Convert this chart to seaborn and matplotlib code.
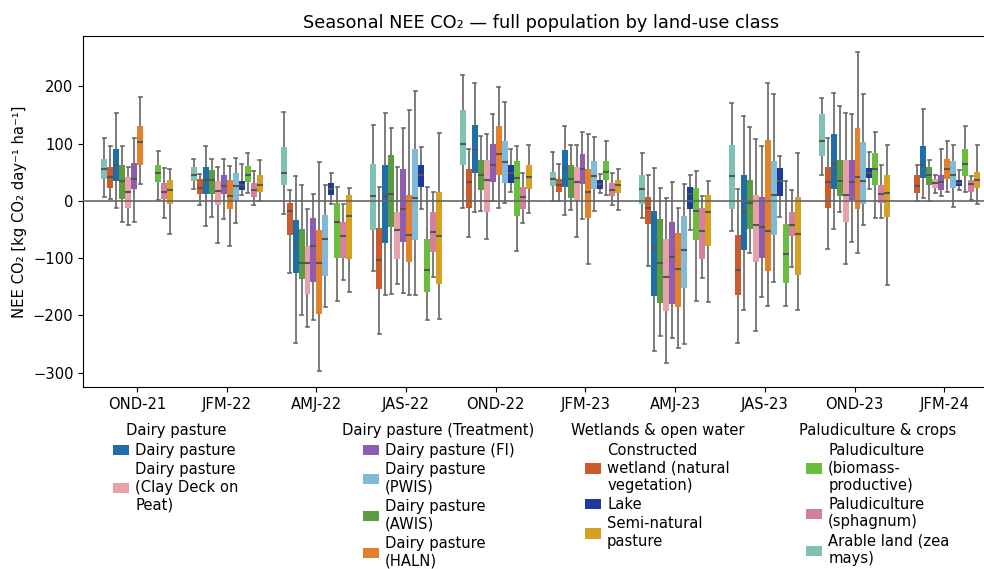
import textwrap

import matplotlib
matplotlib.use("Agg")
import matplotlib.pyplot as plt
from matplotlib.patches import Patch
import pandas as pd
import seaborn as sns

seasons = ["OND-21", "JFM-22", "AMJ-22", "JAS-22", "OND-22",
           "JFM-23", "AMJ-23", "JAS-23", "OND-23", "JFM-24"]

# Per-season five-number summaries: (low whisker, Q1, median, Q3, high whisker)
arable_land = [(6, 38, 55, 73, 110), (20, 35, 45, 59, 73), (-22, 27, 49, 94, 155),
               (-123, -50, 9, 65, 133), (-12, 62, 100, 159, 220), (0, 26, 38, 51, 86),
               (-30, -5, 20, 46, 83), (-52, -14, 44, 98, 171), (45, 79, 105, 151, 180),
               None]
constructed_wetland = [(3, 23, 42, 60, 95), (-7, 12, 23, 38, 47), (-126, -59, -17, -4, 19),
                       (-233, -154, -104, -48, 24), (-63, -12, 33, 56, 90), (-1, 16, 28, 39, 65),
                       (-113, -40, -12, 6, 45), (-248, -164, -121, -59, 21), (-84, -12, 33, 59, 109),
                       (-1, 14, 26, 45, 62)]
dairy = [(-12, 35, 62, 90, 153), (-44, 12, 36, 60, 96), (-248, -126, -77, -33, 44),
         (-165, -73, 9, 62, 154), (-20, 48, 88, 133, 206), (-24, 24, 58, 88, 131),
         (-262, -166, -82, -17, 58), (-191, -86, -20, 46, 149), (-49, 21, 65, 116, 189),
         (5, 40, 62, 95, 160)]
dairy_awis = [(-36, 3, 34, 62, 96), (-28, 12, 36, 54, 73), (-199, -136, -108, -49, 28),
              (-163, -45, 12, 80, 127), (-17, 19, 45, 72, 113), (-16, 5, 38, 63, 98),
              (-236, -178, -109, -31, 23), (-91, -49, -3, 37, 129), (-20, 9, 34, 72, 166),
              (-1, 28, 45, 60, 72)]
dairy_clay = [(-42, -12, 16, 41, 60), (-74, -7, 17, 34, 60), (-220, -162, -109, -78, -15),
              (-145, -102, -51, -19, 60), (-66, -19, 37, 72, 117), (-63, 2, 33, 60, 98),
              (-283, -193, -132, -67, 5), (-227, -106, -42, 11, 108), (-111, -36, 10, 72, 153),
              (14, 23, 31, 38, 46)]
dairy_fi = [(-37, 21, 38, 67, 109), (-31, 12, 26, 45, 73), (-208, -141, -78, -29, 12),
            (-161, -72, -15, 55, 127), (-1, 33, 62, 100, 152), (-31, 30, 56, 81, 121),
            (-239, -180, -98, -36, 33), (-168, -99, -45, 6, 95), (-72, 1, 33, 72, 152),
            (8, 19, 33, 46, 90)]
dairy_haln = [(30, 63, 103, 130, 182), (-79, -14, 8, 36, 61), (-297, -197, -108, -51, 68),
              (-165, -106, -59, 10, 158), (-12, 46, 82, 131, 199), (-111, -30, 15, 55, 116),
              (-257, -185, -118, -56, -12), (-183, -123, -53, 107, 206), (-91, -15, 41, 128, 260),
              (16, 39, 55, 74, 104)]
dairy_pwis = [None, (-39, 1, 26, 48, 75), (-186, -131, -67, -24, 27),
              (-165, -69, 5, 90, 192), (-4, 32, 68, 105, 173), (-17, 21, 44, 69, 111),
              (-249, -152, -86, -27, 30), (-142, -59, 11, 70, 186), (-42, -5, 34, 102, 186),
              (-10, 23, 46, 70, 97)]
lake = [None, (11, 19, 27, 34, 65), (-6, 11, 21, 32, 48),
        (-15, 24, 46, 63, 94), (15, 31, 48, 62, 91), (14, 21, 29, 36, 47),
        (-50, -14, 12, 25, 45), (-28, 9, 35, 58, 79), (20, 40, 49, 58, 86),
        (19, 26, 32, 36, 54)]
palud_biomass = [(2, 33, 48, 63, 87), (13, 33, 45, 61, 84), (-174, -99, -36, -4, 24),
                 (-208, -159, -120, -66, 24), (-88, -26, 40, 69, 96), (10, 37, 51, 70, 104),
                 (-174, -69, -18, 23, 52), (-184, -143, -93, -41, 34), (-30, 27, 55, 83, 120),
                 (15, 44, 64, 90, 130)]
palud_sphagnum = [(-30, 3, 16, 31, 57), (-8, 7, 19, 31, 52), (-138, -99, -61, -36, -5),
                  (-133, -89, -54, -19, 16), (-38, -14, 6, 24, 48), (-7, 9, 19, 31, 49),
                  (-134, -101, -52, -12, 9), (-116, -61, -42, -19, 19), (-30, -4, 12, 27, 62),
                  (2, 15, 29, 36, 44)]
semi_natural = [(-58, -5, 19, 36, 55), (-1, 15, 27, 45, 72), (-159, -102, -27, 10, 22),
                (-206, -145, -62, 16, 118), (-21, 21, 41, 63, 97), (-16, 14, 27, 37, 55),
                (-176, -79, -20, 11, 35), (-190, -129, -58, 6, 84), (-147, -28, 13, 45, 98),
                (-6, 23, 37, 51, 98)]

land_use = {
    "Arable land (zea mays)": ("#7fc1b2", arable_land),
    "Constructed wetland (natural vegetation)": ("#cc5b2b", constructed_wetland),
    "Dairy pasture": ("#1f6ea8", dairy),
    "Dairy pasture (AWIS)": ("#5b9c42", dairy_awis),
    "Dairy pasture (Clay Deck on Peat)": ("#e8a1a9", dairy_clay),
    "Dairy pasture (FI)": ("#8f5db0", dairy_fi),
    "Dairy pasture (HALN)": ("#e4802a", dairy_haln),
    "Dairy pasture (PWIS)": ("#80bad6", dairy_pwis),
    "Lake": ("#1c3c9c", lake),
    "Paludiculture (biomass-productive)": ("#6abe3e", palud_biomass),
    "Paludiculture (sphagnum)": ("#d47f9f", palud_sphagnum),
    "Semi-natural pasture": ("#d6a023", semi_natural),
}
hue_order = list(land_use)
palette = {name: col for name, (col, _) in land_use.items()}

legend_groups = [
    ("Dairy pasture", ["Dairy pasture", "Dairy pasture (Clay Deck on Peat)"], 176),
    ("Dairy pasture (Treatment)", ["Dairy pasture (FI)", "Dairy pasture (PWIS)",
                                   "Dairy pasture (AWIS)", "Dairy pasture (HALN)"], 438.5),
    ("Wetlands & open water", ["Constructed wetland (natural vegetation)", "Lake",
                               "Semi-natural pasture"], 657.5),
    ("Paludiculture & crops", ["Paludiculture (biomass-productive)", "Paludiculture (sphagnum)",
                               "Arable land (zea mays)"], 878),
]

# Long-form table: each box gets its five summary values as observations
rows = []
for name, (_, summaries) in land_use.items():
    for season, summary in zip(seasons, summaries):
        if summary is None:
            continue
        for v in summary:
            rows.append({"season": season, "land_use": name, "nee": v})
df = pd.DataFrame(rows)

FS = 10.6
W, H = 984, 569
fig = plt.figure(figsize=(W / 100, H / 100), dpi=100)
ax = fig.add_axes([83.3 / W, 1 - 387 / H, (998 - 83.3) / W, (387 - 36) / H])

sns.boxplot(
    data=df, x="season", y="nee", hue="land_use",
    order=seasons, hue_order=hue_order, palette=palette,
    whis=(0, 100), width=0.8, gap=0, saturation=1,
    linecolor="#666666", linewidth=1.2, showfliers=False,
    boxprops={"linewidth": 0},
    medianprops={"color": "#555555", "linewidth": 1.5},
    legend=False, ax=ax,
)

ax.axhline(0, color="#666666", linewidth=1.2, zorder=4)
ax.set_xlim(-0.6, 9.6)
ax.set_xlabel("")
ax.set_ylabel("NEE CO₂ [kg CO₂ day⁻¹ ha⁻¹]", fontsize=FS)
ax.tick_params(labelsize=FS)
ax.set_title("Seasonal NEE CO₂ — full population by land-use class", fontsize=12.8)

for title, names, cx in legend_groups:
    handles = [Patch(facecolor=palette[n], edgecolor="none") for n in names]
    labels = [textwrap.fill(n, 18) for n in names]
    fig.legend(
        handles, labels, title=title, loc="upper center",
        bbox_to_anchor=(cx / W, 1 - 417.5 / H), frameon=False,
        fontsize=FS, title_fontsize=FS, handlelength=1.08,
        handletextpad=0.4, labelspacing=0.3,
        borderaxespad=0, borderpad=0.4,
    )

fig.savefig("out.png", dpi=100)
